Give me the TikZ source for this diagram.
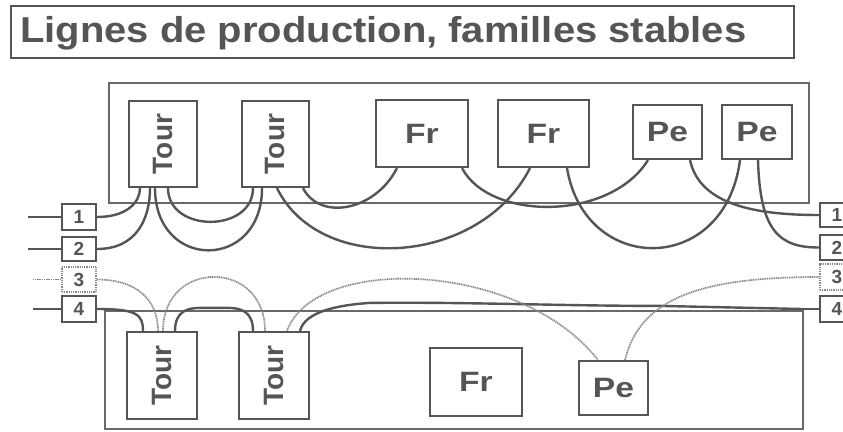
\documentclass[tikz,border=0pt]{standalone}
\usepackage{fontspec}
\setmainfont{Liberation Sans}
\definecolor{ink}{RGB}{85,85,85}
\definecolor{frame}{RGB}{105,105,105}
\definecolor{dotc}{RGB}{135,135,135}
\tikzset{
  unit/.style={draw=ink, line width=2.2pt, inner sep=0pt, text=ink, font=\fontsize{28}{28}\selectfont\bfseries},
  port/.style={draw=ink, line width=2pt, inner sep=0pt, minimum width=34pt, text=ink, font=\fontsize{19}{19}\selectfont\bfseries},
  dport/.style={draw=dotc, line width=1.4pt, dash pattern=on 1pt off 0.8pt, inner sep=0pt, minimum width=34pt, text=ink, font=\fontsize{19}{19}\selectfont\bfseries},
  area/.style={draw=frame, line width=1.6pt, inner sep=0pt},
  wire/.style={draw=ink, line width=2.4pt},
  dwire/.style={draw=dotc, line width=1.7pt, dash pattern=on 1.1pt off 0.7pt},
}
\begin{document}
\begin{tikzpicture}[x=1pt,y=-1pt]
\useasboundingbox (0,0) rectangle (843,431);
\clip (0,0) rectangle (843,431);
\fill[white] (0,0) rectangle (843,431);

% title
\node[draw=ink, line width=2pt, minimum width=783pt, minimum height=52pt, inner sep=0pt, anchor=north west] (title) at (10,5) {};
\node[anchor=base west, text=ink, font=\fontsize{36}{36}\selectfont\bfseries, inner sep=0pt] (titletext) at (20,42) {\scalebox{1.11}[1]{Lignes de production, familles stables}};

% frames
\node[area, minimum width=700pt, minimum height=120pt, anchor=north west] (topframe) at (108,82) {};
\node[area, minimum width=698pt, minimum height=118pt, anchor=north west] (botframe) at (104,310) {};

% top units
\node[unit, minimum width=68pt, minimum height=86pt] (t1) at (163,144) {\rotatebox{90}{Tour}};
\node[unit, minimum width=67pt, minimum height=86pt] (t2) at (275.5,144) {\rotatebox{90}{Tour}};
\node[unit, minimum width=92pt, minimum height=67pt] (f1) at (422,133.5) {\scalebox{1.2}[1]{Fr}};
\node[unit, minimum width=91pt, minimum height=67pt] (f2) at (543.5,133.5) {\scalebox{1.2}[1]{Fr}};
\node[unit, minimum width=69pt, minimum height=54pt] (p1) at (667.5,132) {\scalebox{1.2}[1]{Pe}};
\node[unit, minimum width=70pt, minimum height=54pt] (p2) at (757,132) {\scalebox{1.2}[1]{Pe}};

% bottom units
\node[unit, minimum width=70pt, minimum height=87pt] (t3) at (162,375.5) {\rotatebox{90}{Tour}};
\node[unit, minimum width=70pt, minimum height=87pt] (t4) at (274,375.5) {\rotatebox{90}{Tour}};
\node[unit, minimum width=92pt, minimum height=68pt] (f3) at (476,382) {\scalebox{1.2}[1]{Fr}};
\node[unit, minimum width=69pt, minimum height=54pt] (p3) at (613.5,388) {\scalebox{1.2}[1]{Pe}};

% ports left
\node[port, minimum height=26pt] (l1) at (79,217) {1};
\node[port, minimum height=24pt] (l2) at (79,249) {2};
\node[dport, minimum height=25pt] (l3) at (79,279.5) {3};
\node[port, minimum height=26pt] (l4) at (79,309) {4};
% ports right
\node[port, minimum height=24pt] (r1) at (837,215) {1};
\node[port, minimum height=25pt] (r2) at (837,247.5) {2};
\node[dport, minimum height=26pt] (r3) at (837,277) {3};
\node[port, minimum height=26pt] (r4) at (837,309) {4};

% lead-in ends
\coordinate (e1) at (28,217);
\coordinate (e2) at (28,249);
\coordinate (e3) at (33,279.5);
\coordinate (e4) at (33,309);
\draw[wire] (e1) -- (l1.west);
\draw[wire] (e2) -- (l2.west);
\draw[dwire] (e3) -- (l3.west);
\draw[wire] (e4) -- (l4.west);
\coordinate (f4) at (802,309);
\draw[wire] (f4) -- (r4.west);

% top wires
\draw[wire] (l1.east) .. controls +(30,0) and +(0,14) .. ([xshift=-23pt]t1.south);
\draw[wire] (l2.east) .. controls +(40,0) and +(0,30) .. ([xshift=-13pt]t1.south);
\draw[wire] ([xshift=-8pt]t1.south) .. controls +(0,83) and +(0,83) .. ([xshift=-13.5pt]t2.south);
\draw[wire] ([xshift=5pt]t1.south) .. controls +(0,45) and +(0,45) .. ([xshift=-22.5pt]t2.south);
\draw[wire] ([xshift=1.5pt]t2.south) .. controls +(43,88) and +(-50,98) .. ([xshift=-13.5pt]f2.south);
\draw[wire] ([xshift=27.5pt]t2.south) .. controls +(17,33) and +(-22,43) .. ([xshift=-25pt]f1.south);
\draw[wire] ([xshift=40pt]f1.south) .. controls +(28,53) and +(-38,61) .. ([xshift=-19.5pt]p1.south);
\draw[wire] ([xshift=23.5pt]f2.south) .. controls +(18,108) and +(-15,116) .. ([xshift=-17pt]p2.south);
\draw[wire] ([xshift=22.5pt]p1.south) .. controls +(10,46) and +(-60,0) .. (r1.west);
\draw[wire] ([xshift=1pt]p2.south) .. controls +(2,71) and +(-40,0) .. (r2.west);

% bottom wires
\draw[wire] (l4.east) .. controls +(39,0) and +(0,-17) .. ([xshift=-19pt]t3.north);
\draw[wire] ([xshift=13pt]t3.north) .. controls +(0,-20) and +(-12,0) .. ++(25,-23) -- ++(28,0) .. controls +(12,0) and +(0,-20) .. ([xshift=-21pt]t4.north);
\draw[wire] ([xshift=26pt]t4.north) .. controls +(5,-20) and +(-30,2) .. ++(70,-28) .. controls +(100,-1) and +(-100,0) .. ++(290,3) -- (f4);

% dotted wires
\draw[dwire] (l3.east) .. controls +(39,0) and +(0,-32) .. ([xshift=-4pt]t3.north);
\draw[dwire] ([xshift=1pt]t3.north) .. controls +(0,-72) and +(0,-72) .. ([xshift=-9pt]t4.north);
\draw[dwire] ([xshift=13pt]t4.north) .. controls +(28,-77) and +(-78,-99) .. ([xshift=-15.5pt]p3.north);
\draw[dwire] ([xshift=11.5pt]p3.north) .. controls +(15,-61) and +(-120,0) .. (r3.west);
\end{tikzpicture}
\end{document}
